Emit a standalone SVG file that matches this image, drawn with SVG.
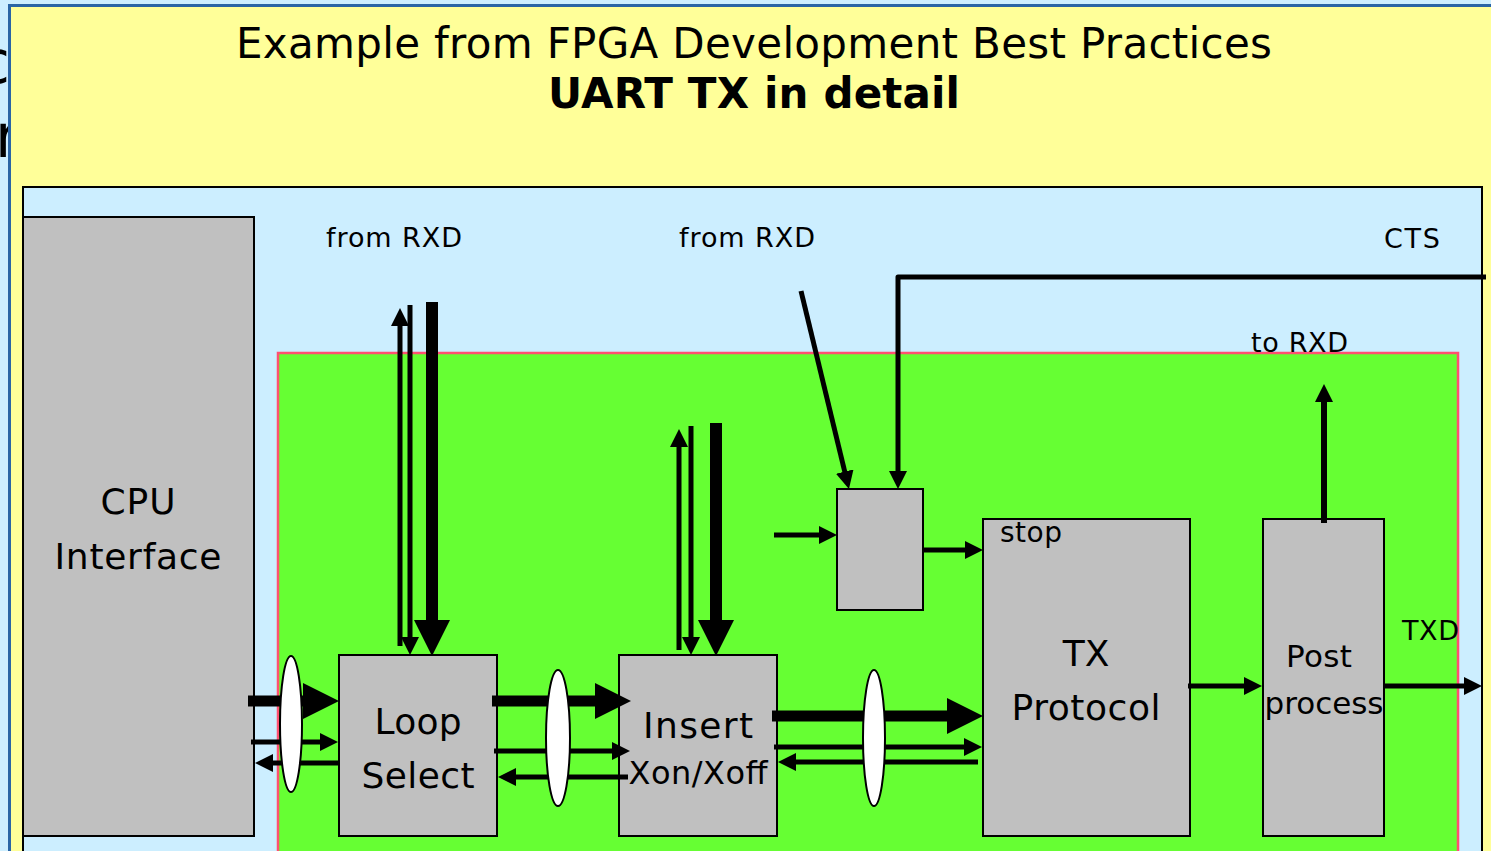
<svg xmlns="http://www.w3.org/2000/svg" width="1491" height="851" viewBox="0 0 1491 851">
  <defs>
    <style>
      text { font-family: "DejaVu Sans", "Liberation Sans", sans-serif; fill: #000; }
      .title { font-size: 42px; text-anchor: middle; }
      .bold { font-weight: bold; }
      .lbl { font-size: 27px; }
      .node { fill: #c0c0c0; stroke: #000; stroke-width: 2; }
      .big { font-size: 36px; text-anchor: middle; }
      .mid { font-size: 31px; text-anchor: middle; }
      .thick { stroke: #000; stroke-width: 11; fill: none; }
      .med { stroke: #000; stroke-width: 5; fill: none; }
      .lens { fill: #fff; stroke: #000; stroke-width: 2; }
    </style>
    <marker id="bigHead" markerUnits="userSpaceOnUse" markerWidth="36" markerHeight="36" viewBox="0 0 36 36" refX="2" refY="18" orient="auto">
      <path d="M0,0 L36,18 L0,36 Z" fill="#000"/>
    </marker>
    <marker id="smallHead" markerUnits="userSpaceOnUse" markerWidth="18" markerHeight="18" viewBox="0 0 18 18" refX="2" refY="9" orient="auto">
      <path d="M0,0 L18,9 L0,18 Z" fill="#000"/>
    </marker>
  </defs>

  <!-- page background with clipped fragments of the slide behind -->
  <rect x="0" y="0" width="1491" height="851" fill="#cdeeff"/>
  <text x="-23" y="83" style="font-size:60px">c</text>
  <text x="-5" y="157" style="font-size:60px">r</text>

  <!-- yellow panel -->
  <rect x="9.5" y="5.5" width="1500" height="900" fill="#ffff99" stroke="#2a65a5" stroke-width="3"/>
  <text class="title" x="754" y="58" textLength="1036" lengthAdjust="spacing">Example from FPGA Development Best Practices</text>
  <text class="title bold" x="754" y="108" textLength="412" lengthAdjust="spacing">UART TX in detail</text>

  <!-- blue area -->
  <rect x="23" y="187" width="1459" height="700" fill="#cceeff" stroke="#000" stroke-width="2"/>
  <!-- green area -->
  <rect x="278" y="353" width="1180" height="560" fill="#66ff33" stroke="#ff5070" stroke-width="2.5"/>

  <!-- labels -->
  <text class="lbl" x="326" y="247" textLength="136" lengthAdjust="spacing">from RXD</text>
  <text class="lbl" x="679" y="247" textLength="136" lengthAdjust="spacing">from RXD</text>
  <text class="lbl" x="1384" y="248" textLength="56" lengthAdjust="spacing">CTS</text>
  <text class="lbl" x="1251" y="352" textLength="97" lengthAdjust="spacing">to RXD</text>
  <text class="lbl" x="1402" y="640" textLength="57" lengthAdjust="spacing">TXD</text>

  <!-- nodes -->
  <g id="cpu">
    <rect class="node" x="23" y="217" width="231" height="619"/>
    <text class="big" x="138" y="514" textLength="75" lengthAdjust="spacing">CPU</text>
    <text class="big" x="138" y="569" textLength="167" lengthAdjust="spacing">Interface</text>
  </g>
  <g id="loop">
    <rect class="node" x="339" y="655" width="158" height="181"/>
    <text class="big" x="418" y="734" textLength="87" lengthAdjust="spacing">Loop</text>
    <text class="big" x="418" y="788" textLength="113" lengthAdjust="spacing">Select</text>
  </g>
  <g id="insert">
    <rect class="node" x="619" y="655" width="158" height="181"/>
    <text class="big" x="698" y="738" textLength="110" lengthAdjust="spacing">Insert</text>
    <text x="698" y="784" style="font-size:32px;text-anchor:middle" textLength="139" lengthAdjust="spacing">Xon/Xoff</text>
  </g>
  <g id="gate">
    <rect class="node" x="837" y="489" width="86" height="121"/>
  </g>
  <g id="tx">
    <rect class="node" x="983" y="519" width="207" height="317"/>
    <text x="1000" y="542" style="font-size:28px" textLength="62" lengthAdjust="spacing">stop</text>
    <text class="big" x="1086" y="666">TX</text>
    <text class="big" x="1086" y="720" textLength="149" lengthAdjust="spacing">Protocol</text>
  </g>
  <g id="post">
    <rect class="node" x="1263" y="519" width="121" height="317"/>
    <text class="mid" x="1319" y="667" textLength="66" lengthAdjust="spacing">Post</text>
    <text class="mid" x="1324" y="714" textLength="119" lengthAdjust="spacing">process</text>
  </g>

  <!-- connectors -->
  <g id="connectors">
    <!-- CPU <-> Loop Select -->
    <line class="thick" x1="248" y1="701" x2="305" y2="701" marker-end="url(#bigHead)"/>
    <line class="med" x1="251" y1="742" x2="322" y2="742" marker-end="url(#smallHead)"/>
    <line class="med" x1="338" y1="763" x2="271" y2="763" marker-end="url(#smallHead)"/>
    <!-- Loop Select <-> Insert -->
    <line class="thick" x1="492" y1="701" x2="597" y2="701" marker-end="url(#bigHead)"/>
    <line class="med" x1="494" y1="751" x2="614" y2="751" marker-end="url(#smallHead)"/>
    <line class="med" x1="628" y1="777" x2="514" y2="777" marker-end="url(#smallHead)"/>
    <!-- Insert <-> TX Protocol -->
    <line class="thick" x1="772" y1="716" x2="949" y2="716" marker-end="url(#bigHead)"/>
    <line class="med" x1="774" y1="747" x2="966" y2="747" marker-end="url(#smallHead)"/>
    <line class="med" x1="978" y1="762" x2="794" y2="762" marker-end="url(#smallHead)"/>
    <!-- gate -->
    <line class="med" x1="774" y1="535" x2="821" y2="535" marker-end="url(#smallHead)"/>
    <line class="med" x1="923" y1="550" x2="967" y2="550" marker-end="url(#smallHead)"/>
    <line class="med" x1="801" y1="291" x2="845.2" y2="473.5" marker-end="url(#smallHead)"/>
    <path class="med" d="M1486,277 H898 V473" stroke-linejoin="round" marker-end="url(#smallHead)"/>
    <!-- TX -> Post -> TXD -->
    <line class="med" x1="1188" y1="686" x2="1246" y2="686" marker-end="url(#smallHead)"/>
    <line class="med" x1="1385" y1="686" x2="1466" y2="686" marker-end="url(#smallHead)"/>
    <line class="med" x1="1324" y1="523" x2="1324" y2="400" style="stroke-width:6" marker-end="url(#smallHead)"/>
    <!-- vertical arrows at Loop Select -->
    <line class="med" x1="400" y1="646" x2="400" y2="324" marker-end="url(#smallHead)"/>
    <line class="med" x1="410" y1="305" x2="410" y2="639" marker-end="url(#smallHead)"/>
    <line class="thick" x1="432" y1="302" x2="432" y2="622" style="stroke-width:12" marker-end="url(#bigHead)"/>
    <!-- vertical arrows at Insert -->
    <line class="med" x1="679" y1="650" x2="679" y2="445" marker-end="url(#smallHead)"/>
    <line class="med" x1="691" y1="426" x2="691" y2="639" marker-end="url(#smallHead)"/>
    <line class="thick" x1="716" y1="423" x2="716" y2="622" style="stroke-width:12" marker-end="url(#bigHead)"/>
  </g>

  <!-- bus lenses -->
  <g id="lenses">
    <ellipse class="lens" cx="291" cy="724" rx="11" ry="68"/>
    <ellipse class="lens" cx="558" cy="738" rx="12" ry="68"/>
    <ellipse class="lens" cx="874" cy="738" rx="11" ry="68"/>
  </g>
</svg>
